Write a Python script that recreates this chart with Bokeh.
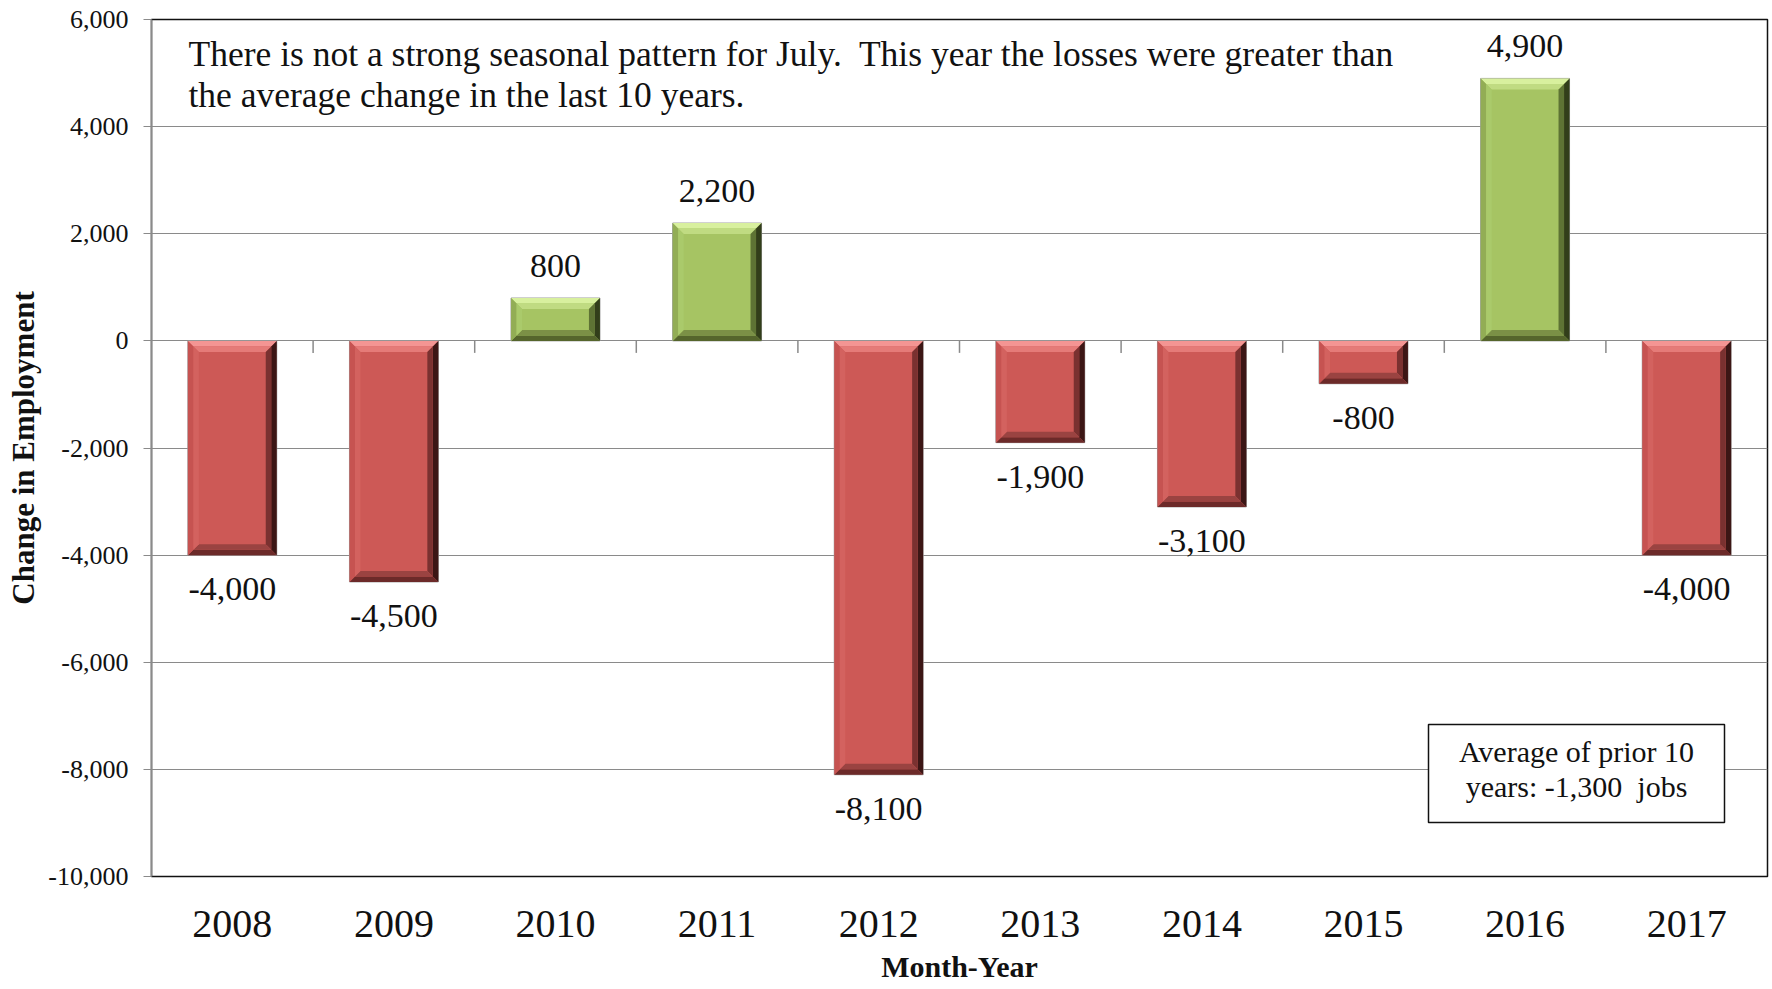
from bokeh.plotting import figure
from bokeh.models import (Range1d, SingleIntervalTicker, FixedTicker, NumeralTickFormatter,
                          ColumnDataSource, LabelSet, Label, BoxAnnotation)
from bokeh.embed import file_html
from bokeh.resources import INLINE

# ---------------- data ----------------
years = ["2008", "2009", "2010", "2011", "2012", "2013", "2014", "2015", "2016", "2017"]
changes = [-4000, -4500, 800, 2200, -8100, -1900, -3100, -800, 4900, -4000]
y_min, y_max, y_step = -10000, 6000, 2000
note_lines = ["There is not a strong seasonal pattern for July.\u00a0 This year the losses were greater than",
              "the average change in the last 10 years."]
avg_lines = ["Average of prior 10", "years: -1,300\u00a0 jobs"]
x_title = "Month-Year"
y_title = "Change in Employment"

# ---------------- layout ----------------
FONT = "Liberation Serif"
W, H = 1770, 988
BL, BR, BT, BB = 151, 3, 19, 112
FW, FH = W - BL - BR, H - BT - BB
n = len(years)
px_x = FW / n                      # px per category unit
px_y = FH / (y_max - y_min)        # px per data unit

p = figure(width=W, height=H, x_range=Range1d(0, n), y_range=Range1d(y_min, y_max),
           output_backend="svg", toolbar_location=None,
           min_border_left=BL, min_border_right=BR, min_border_top=BT, min_border_bottom=BB)
p.background_fill_color = "white"
p.border_fill_color = "white"
p.outline_line_color = "#111111"
p.outline_line_width = 1.5

# grid
p.xgrid.visible = False
p.ygrid.ticker = SingleIntervalTicker(interval=y_step)
p.ygrid.grid_line_color = "#8a8a8a"
p.ygrid.grid_line_width = 1

# y axis
ya = p.yaxis[0]
ya.ticker = SingleIntervalTicker(interval=y_step)
ya.formatter = NumeralTickFormatter(format="0,0")
ya.minor_tick_line_color = None
ya.major_tick_out = 8
ya.major_tick_in = 0
ya.major_tick_line_color = "#8a8a8a"
ya.axis_line_color = "#8a8a8a"
ya.axis_line_width = 1.5
ya.major_label_text_font = FONT
ya.major_label_text_font_size = "26px"
ya.major_label_text_color = "#111111"
ya.major_label_standoff = 15
ya.axis_label = y_title
ya.axis_label_text_font = FONT
ya.axis_label_text_font_style = "bold"
ya.axis_label_text_font_size = "31px"
ya.axis_label_text_color = "#111111"
ya.axis_label_standoff = 4

# x axis (year labels + title)
centers = [i + 0.5 for i in range(n)]
xa = p.xaxis[0]
xa.ticker = FixedTicker(ticks=centers)
xa.major_label_overrides = {c: y for c, y in zip(centers, years)}
xa.minor_tick_line_color = None
xa.major_tick_line_color = None
xa.axis_line_color = None
xa.major_label_text_font = FONT
xa.major_label_text_font_size = "40px"
xa.major_label_text_color = "#111111"
xa.major_label_standoff = 28
xa.axis_label = x_title
xa.axis_label_text_font = FONT
xa.axis_label_text_font_style = "bold"
xa.axis_label_text_font_size = "30px"
xa.axis_label_text_color = "#111111"
xa.axis_label_standoff = 10

# ---------------- bars with bevel ----------------
half = 0.275
bev_x = 11 / px_x
bev_y = 11 / px_y

RED = dict(main="#CD5956", sides=[("#F49593", "#E57B78"), ("#3C1615", "#7A3130"),
                                  ("#6C2A29", "#9A4341"), ("#C65351", "#D3625F")])
GREEN = dict(main="#A6C463", sides=[("#D8F09E", "#C0DB82"), ("#323E1A", "#5E7334"),
                                    ("#55652C", "#7B9046"), ("#92AD55", "#AACA6B")])

lefts, rights, tops, bottoms, mains = [], [], [], [], []
pxs, pys, pcols = [], [], []
for c, v in zip(centers, changes):
    sty = GREEN if v >= 0 else RED
    L, R = c - half, c + half
    T, B = max(0, v), min(0, v)
    lefts.append(L); rights.append(R); tops.append(T); bottoms.append(B); mains.append(sty["main"])
    O = [(L, T), (R, T), (R, B), (L, B)]
    I = [(L + bev_x, T - bev_y), (R - bev_x, T - bev_y), (R - bev_x, B + bev_y), (L + bev_x, B + bev_y)]
    M = [((o[0] + i[0]) / 2, (o[1] + i[1]) / 2) for o, i in zip(O, I)]
    for k in range(4):
        k2 = (k + 1) % 4
        outer_c, inner_c = sty["sides"][k]
        for pts, col in (([O[k], O[k2], M[k2], M[k]], outer_c), ([M[k], M[k2], I[k2], I[k]], inner_c)):
            pxs.append([q[0] for q in pts]); pys.append([q[1] for q in pts]); pcols.append(col)

p.quad(left=lefts, right=rights, top=tops, bottom=bottoms, fill_color=mains,
       line_color="#9c9c9c", line_width=1)
p.patches(xs=pxs, ys=pys, fill_color=pcols, line_color=None)

# category separator ticks on the zero line
tick_len = 12 / px_y
bounds = list(range(1, n))
p.segment(x0=bounds, y0=[0] * len(bounds), x1=bounds, y1=[-tick_len] * len(bounds),
          line_color="#8a8a8a", line_width=1.5)

# ---------------- value labels ----------------
pos = [(c, v) for c, v in zip(centers, changes) if v >= 0]
neg = [(c, v) for c, v in zip(centers, changes) if v < 0]
src_pos = ColumnDataSource(dict(x=[a for a, _ in pos], y=[b for _, b in pos],
                                t=[f"{b:,}" for _, b in pos]))
src_neg = ColumnDataSource(dict(x=[a for a, _ in neg], y=[b for _, b in neg],
                                t=[f"{b:,}" for _, b in neg]))
for src, off in ((src_pos, 21), (src_neg, -45)):
    p.add_layout(LabelSet(x="x", y="y", text="t", source=src, y_offset=off,
                          text_align="center", text_baseline="alphabetic",
                          text_font=FONT, text_font_size="34px", text_color="#111111",
                          background_fill_color="white", background_fill_alpha=1.0))

# ---------------- annotations ----------------
note_x = 37 / px_x
for txt, py in zip(note_lines, (53, 94)):
    p.add_layout(Label(x=note_x, y=y_max - (py - BT) / px_y, text=txt, text_font=FONT,
                       text_font_size="35.5px", text_color="#111111",
                       text_align="left", text_baseline="alphabetic"))

box_l, box_r = (1428 - BL) / px_x, (1724 - BL) / px_x
box_t, box_b = y_max - (724 - BT) / px_y, y_max - (822 - BT) / px_y
p.add_layout(BoxAnnotation(left=box_l, right=box_r, top=box_t, bottom=box_b,
                           fill_color="white", fill_alpha=1.0,
                           line_color="#111111", line_width=1.5, line_alpha=1.0))
box_c = (box_l + box_r) / 2
for txt, py in zip(avg_lines, (751, 786)):
    p.add_layout(Label(x=box_c, y=y_max - (py - BT) / px_y, text=txt, text_font=FONT,
                       text_font_size="30px", text_color="#111111",
                       text_align="center", text_baseline="alphabetic"))

open("out.html", "w").write(file_html(p, INLINE))
